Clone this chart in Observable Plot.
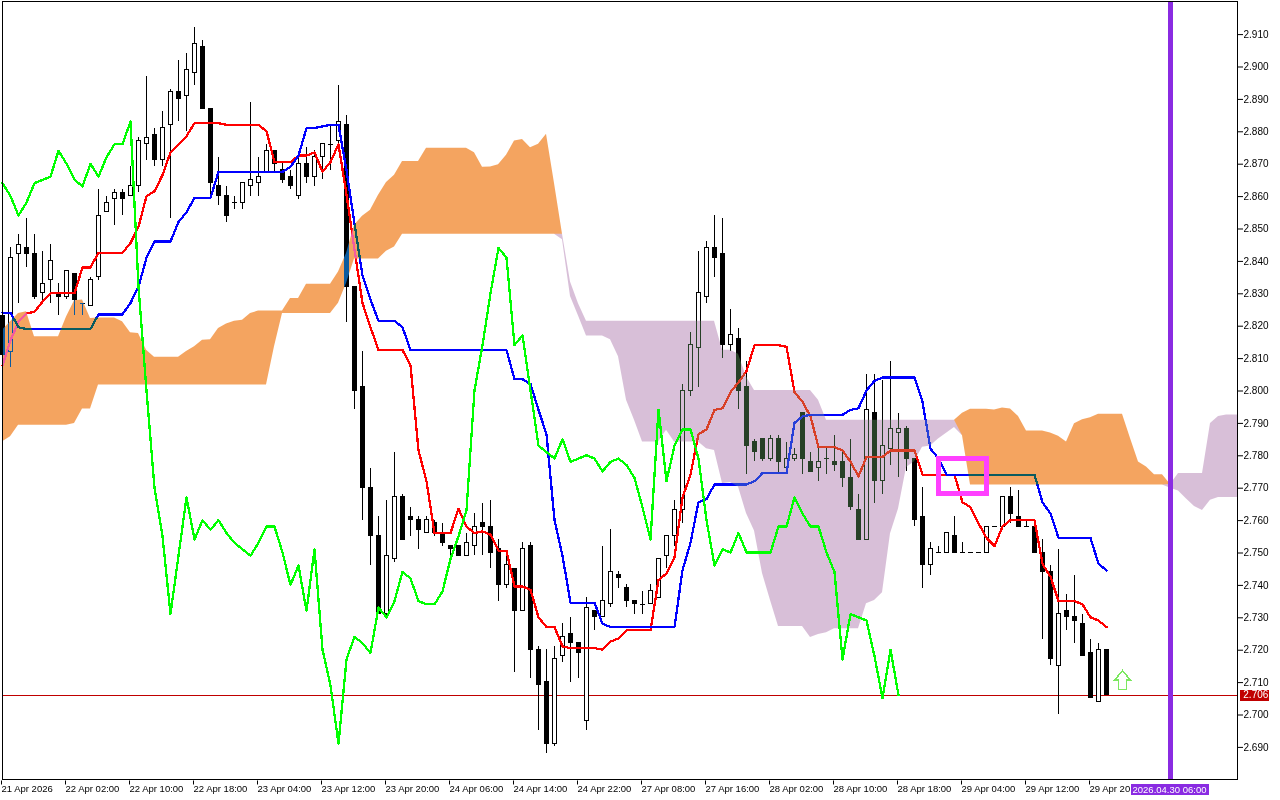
<!DOCTYPE html>
<html>
<head>
<meta charset="utf-8">
<style>
html,body{margin:0;padding:0;background:#fff;}
svg{display:block;}
</style>
<script src="https://cdn.jsdelivr.net/npm/d3@7"></script>
<script src="https://cdn.jsdelivr.net/npm/@observablehq/plot@0.6"></script>
</head>
<body>
<div id="chart"></div>
<script>
const open = [
2.823,2.812,2.842,2.844,2.842,2.830,2.834,2.830,2.829,2.836,
2.827,2.826,2.835,2.855,2.859,2.861,2.860,2.863,2.876,2.879,
2.871,2.882,2.892,2.891,2.898,2.906,2.887,2.863,2.860,2.858,
2.858,2.863,2.864,2.867,2.874,2.868,2.866,2.860,2.870,2.866,
2.872,2.876,2.877,2.882,2.832,2.801,2.770,2.755,2.731,2.748,
2.767,2.761,2.760,2.756,2.759,2.756,2.752,2.752,2.749,2.752,
2.759,2.758,2.751,2.740,2.745,2.732,2.752,2.720,2.710,2.691,
2.718,2.725,2.722,2.698,2.732,2.730,2.734,2.743,2.739,2.735,
2.734,2.734,2.736,2.749,2.755,2.763,2.800,2.813,2.829,2.844,
2.842,2.814,2.816,2.801,2.784,2.785,2.779,2.785,2.776,2.779,
2.793,2.778,2.776,2.779,2.778,2.778,2.773,2.763,2.754,2.793,
2.772,2.782,2.787,2.788,2.779,2.761,2.746,2.750,2.750,2.755,
2.750,2.750,2.750,2.750,2.758,2.758,2.767,2.761,2.758,2.758,
2.750,2.744,2.715,2.732,2.730,2.728,2.719,2.704,2.720];
const high = [
2.823,2.844,2.848,2.853,2.848,2.843,2.845,2.833,2.837,2.836,
2.827,2.835,2.862,2.860,2.862,2.862,2.869,2.878,2.897,2.881,
2.886,2.893,2.902,2.904,2.912,2.908,2.887,2.872,2.863,2.860,
2.864,2.889,2.872,2.876,2.874,2.870,2.868,2.872,2.875,2.874,
2.876,2.882,2.894,2.885,2.832,2.812,2.776,2.761,2.766,2.781,
2.768,2.764,2.761,2.761,2.760,2.759,2.752,2.752,2.756,2.762,
2.765,2.766,2.754,2.749,2.745,2.753,2.753,2.721,2.720,2.721,
2.728,2.730,2.722,2.736,2.732,2.752,2.757,2.744,2.740,2.735,
2.738,2.740,2.748,2.755,2.766,2.802,2.818,2.843,2.846,2.854,
2.853,2.825,2.819,2.809,2.785,2.785,2.786,2.786,2.784,2.782,
2.793,2.781,2.783,2.782,2.786,2.781,2.785,2.768,2.805,2.805,
2.803,2.809,2.793,2.789,2.779,2.770,2.753,2.752,2.756,2.761,
2.753,2.750,2.750,2.758,2.758,2.767,2.770,2.769,2.760,2.758,
2.754,2.746,2.751,2.737,2.743,2.731,2.723,2.722,2.720];
const low = [
2.811,2.807,2.827,2.838,2.828,2.827,2.827,2.823,2.828,2.823,
2.823,2.826,2.834,2.855,2.851,2.854,2.860,2.861,2.871,2.869,
2.869,2.853,2.883,2.880,2.894,2.887,2.860,2.857,2.852,2.856,
2.856,2.860,2.860,2.867,2.867,2.864,2.862,2.859,2.864,2.863,
2.865,2.868,2.876,2.821,2.794,2.760,2.746,2.731,2.730,2.747,
2.754,2.755,2.751,2.756,2.755,2.752,2.749,2.749,2.749,2.749,
2.749,2.745,2.735,2.739,2.713,2.732,2.711,2.695,2.688,2.690,
2.716,2.710,2.711,2.695,2.726,2.730,2.733,2.739,2.733,2.731,
2.731,2.734,2.736,2.745,2.752,2.759,2.798,2.801,2.827,2.835,
2.810,2.812,2.794,2.774,2.778,2.778,2.778,2.774,2.776,2.778,
2.774,2.775,2.772,2.774,2.775,2.770,2.763,2.754,2.754,2.765,
2.768,2.777,2.773,2.775,2.758,2.739,2.743,2.750,2.750,2.750,
2.750,2.750,2.750,2.750,2.758,2.758,2.759,2.758,2.758,2.750,
2.723,2.715,2.700,2.726,2.722,2.718,2.705,2.704,2.706];
const close = [
2.811,2.841,2.845,2.842,2.829,2.833,2.840,2.829,2.837,2.828,
2.827,2.834,2.854,2.858,2.861,2.859,2.863,2.877,2.878,2.871,
2.881,2.892,2.890,2.899,2.907,2.887,2.864,2.860,2.854,2.858,
2.864,2.865,2.866,2.874,2.870,2.865,2.863,2.870,2.866,2.872,
2.876,2.876,2.883,2.832,2.800,2.770,2.755,2.731,2.749,2.767,
2.754,2.760,2.757,2.760,2.756,2.753,2.751,2.749,2.753,2.758,
2.758,2.750,2.740,2.746,2.732,2.751,2.720,2.709,2.691,2.717,
2.724,2.722,2.719,2.733,2.730,2.735,2.744,2.742,2.735,2.734,
2.734,2.738,2.748,2.755,2.763,2.800,2.814,2.830,2.844,2.841,
2.814,2.817,2.800,2.783,2.781,2.779,2.785,2.778,2.779,2.780,
2.779,2.775,2.778,2.779,2.777,2.773,2.764,2.754,2.794,2.772,
2.783,2.788,2.788,2.779,2.760,2.746,2.751,2.750,2.756,2.750,
2.750,2.750,2.750,2.758,2.758,2.767,2.762,2.758,2.758,2.750,
2.744,2.717,2.731,2.730,2.729,2.718,2.705,2.720,2.706];
const tenkan = [
2.8078,2.8155,2.8212,2.8238,2.8243,2.8274,2.830,2.830,2.830,2.830,
2.838,2.838,2.8425,2.8425,2.8425,2.8425,2.8455,2.8505,2.860,2.8615,
2.8665,2.8735,2.876,2.8785,2.8825,2.8825,2.8825,2.8825,2.882,2.882,
2.882,2.882,2.882,2.880,2.8705,2.8705,2.8705,2.8725,2.8725,2.8735,
2.8675,2.8705,2.876,2.8605,2.8435,2.827,2.8195,2.8125,2.8125,2.8125,
2.8125,2.8078,2.7815,2.772,2.756,2.756,2.756,2.7635,2.758,2.756,
2.7565,2.7555,2.7505,2.7505,2.7395,2.7395,2.7385,2.730,2.727,2.727,
2.721,2.7205,2.7205,2.7205,2.7205,2.720,2.7225,2.7235,2.726,2.726,
2.726,2.726,2.7415,2.7435,2.7485,2.767,2.774,2.7865,2.788,2.794,
2.7945,2.7995,2.8025,2.806,2.814,2.814,2.814,2.814,2.8135,2.7995,
2.7965,2.792,2.7825,2.7825,2.7825,2.7815,2.778,2.7735,2.7795,2.7795,
2.7795,2.7815,2.7815,2.7815,2.7815,2.774,2.774,2.774,2.774,2.774,
2.7655,2.764,2.759,2.7545,2.752,2.758,2.760,2.760,2.760,2.760,
2.7465,2.7425,2.735,2.735,2.735,2.734,2.730,2.729,2.727];
const kijun = [
2.824,2.824,2.8195,2.819,2.819,2.819,2.819,2.819,2.819,2.819,
2.819,2.819,2.8235,2.8235,2.8235,2.8235,2.827,2.832,2.841,2.846,
2.846,2.846,2.852,2.855,2.8595,2.8595,2.8595,2.8675,2.8675,2.8675,
2.8675,2.8675,2.8675,2.8675,2.8675,2.8675,2.869,2.8725,2.881,2.881,
2.8815,2.882,2.882,2.868,2.8515,2.8355,2.828,2.8215,2.8215,2.8215,
2.8195,2.8125,2.8125,2.8125,2.8125,2.8125,2.8125,2.8125,2.8125,2.8125,
2.8125,2.8125,2.8125,2.8125,2.8035,2.8035,2.802,2.794,2.7865,2.760,
2.749,2.7345,2.7345,2.7345,2.7345,2.728,2.727,2.727,2.727,2.727,
2.727,2.727,2.727,2.727,2.727,2.7445,2.753,2.7655,2.7665,2.771,
2.771,2.771,2.771,2.771,2.772,2.7745,2.7745,2.7745,2.7745,2.790,
2.792,2.7925,2.7925,2.7925,2.7925,2.7925,2.794,2.7945,2.800,2.803,
2.804,2.804,2.804,2.804,2.804,2.7965,2.782,2.779,2.774,2.774,
2.774,2.774,2.774,2.774,2.774,2.774,2.774,2.774,2.774,2.774,
2.7655,2.762,2.7545,2.7545,2.7545,2.7545,2.7545,2.7465,2.7445];
const spanA = [
2.8186,2.8212,2.8238,2.8243,2.8166,2.8166,2.8166,2.8166,2.8227,2.8277,
2.8279,2.8222,2.8224,2.8224,2.8224,2.8212,2.8178,2.8176,2.8124,2.8103,
2.8103,2.8103,2.8103,2.812,2.8135,2.8155,2.8157,2.8191,2.8205,2.8214,
2.8217,2.8238,2.8245,2.8245,2.8245,2.8245,2.8284,2.8284,2.8328,2.8328,
2.8328,2.8328,2.8366,2.8423,2.851,2.8538,2.8556,2.8603,2.8642,2.8664,
2.8707,2.8707,2.8707,2.8748,2.8748,2.8748,2.8748,2.8748,2.8748,2.8734,
2.8689,2.869,2.8697,2.8726,2.877,2.8775,2.8749,2.876,2.8791,2.8639,
2.8465,2.829,2.823,2.8168,2.8168,2.8168,2.8157,2.8104,2.797,2.7908,
2.7841,2.7841,2.7841,2.7877,2.7841,2.7841,2.7841,2.7841,2.782,2.7815,
2.7713,2.7716,2.7702,2.762,2.7566,2.7435,2.7352,2.7272,2.7272,2.7272,
2.7272,2.7238,2.7247,2.7252,2.7265,2.7265,2.7265,2.7265,2.7342,2.7352,
2.7376,2.7558,2.7634,2.7762,2.778,2.7825,2.7829,2.785,2.7868,2.7886,
2.793,2.7942,2.7942,2.7942,2.794,2.7946,2.7943,2.792,2.7875,2.7875,
2.7875,2.7869,2.7859,2.7841,2.7897,2.791,2.7916,2.7927,2.7927,2.7927,
2.7927,2.7852,2.7779,2.7764,2.774,2.774,2.7698,2.769,2.7665,2.7642,
2.763,2.7661,2.767,2.767,2.767,2.767];
const spanB = [
2.7842,2.7857,2.7893,2.7893,2.7893,2.7893,2.7893,2.7893,2.7893,2.7898,
2.7943,2.7943,2.8017,2.8017,2.8017,2.8017,2.8017,2.8017,2.8017,2.8017,
2.8017,2.8017,2.8017,2.8017,2.8017,2.8017,2.8017,2.8017,2.8017,2.8017,
2.8017,2.8017,2.8017,2.8017,2.8135,2.8238,2.8238,2.8238,2.8238,2.8238,
2.8238,2.8238,2.8269,2.833,2.8406,2.8406,2.8406,2.8406,2.843,2.8443,
2.8482,2.8482,2.8482,2.8482,2.8482,2.8482,2.8482,2.8482,2.8482,2.8482,
2.8482,2.8482,2.8482,2.8482,2.8482,2.8482,2.8482,2.8482,2.8482,2.8482,
2.8482,2.8335,2.8268,2.8214,2.8214,2.8214,2.8214,2.8214,2.8214,2.8214,
2.8214,2.8214,2.8214,2.8214,2.8214,2.8214,2.8214,2.8214,2.8214,2.8214,
2.8124,2.8124,2.8112,2.8042,2.800,2.800,2.800,2.800,2.800,2.800,
2.800,2.800,2.797,2.7908,2.7908,2.7908,2.7908,2.7908,2.7908,2.7908,
2.7908,2.7908,2.7908,2.7908,2.7908,2.7908,2.7908,2.7908,2.7908,2.7908,
2.786,2.7708,2.7708,2.7708,2.7708,2.7708,2.7708,2.7708,2.7708,2.7708,
2.7708,2.7708,2.7708,2.7708,2.7708,2.7708,2.7708,2.7708,2.7708,2.7708,
2.7708,2.7708,2.7708,2.7708,2.7708,2.7708,2.771,2.7744,2.7744,2.7744,
2.7744,2.7898,2.792,2.7924,2.7924,2.7924];
const timeLabels = ["21 Apr 2026","22 Apr 02:00","22 Apr 10:00","22 Apr 18:00","23 Apr 04:00","23 Apr 12:00",
"23 Apr 20:00","24 Apr 06:00","24 Apr 14:00","24 Apr 22:00","27 Apr 08:00","27 Apr 16:00",
"28 Apr 02:00","28 Apr 10:00","28 Apr 18:00","29 Apr 04:00","29 Apr 12:00","29 Apr 20:00"];
const priceTicks = [2.69,2.70,2.71,2.72,2.73,2.74,2.75,2.76,2.77,2.78,2.79,2.80,2.81,2.82,2.83,2.84,2.85,2.86,2.87,2.88,2.89,2.90,2.91];
const lastPrice = 2.706;
const cursorBar = 146;
const cursorLabel = "2026.04.30 06:00";
const signalBar = 140;
const signalPrice = 2.7106;
const boxBars = [117,123];
const boxPrices = [2.768,2.779];
const lastBarOnScreen = 154.375;

const candles = close.map((c,i)=>({i,o:open[i],h:high[i],l:low[i],c}));
const chikou = close.slice(26).map((c,i)=>({i,c}));
const cloud = spanA.map((a,i)=>({i:Math.min(i,lastBarOnScreen),a,b:spanB[i]}));
const tLine = tenkan.map((v,i)=>({i,v}));
const kLine = kijun.map((v,i)=>({i,v}));
const body = 0.25, flat = 0.3125;
const arrowUp = {draw(ctx){
  ctx.moveTo(0,-9.5);ctx.lineTo(8,0);ctx.lineTo(4,0);ctx.lineTo(4,9.5);
  ctx.lineTo(-4,9.5);ctx.lineTo(-4,0);ctx.lineTo(-8,0);ctx.closePath();
}};
const aliased = {shapeRendering:"crispEdges"};

const chart = Plot.plot({
  width:1280, height:800,
  marginLeft:2, marginRight:43, marginTop:1, marginBottom:21,
  style:{fontFamily:"'Liberation Sans',Arial,sans-serif",fontSize:"9.5px",background:"#fff",color:"#000"},
  x:{domain:[0,lastBarOnScreen],range:[2,1237]},
  y:{domain:[2.67994,2.92006],range:[779,1]},
  marks:[
    Plot.frame({fill:"#fff",stroke:"none"}),
    Plot.ruleY([lastPrice],{x1:0,x2:lastBarOnScreen,stroke:"#c00000",strokeWidth:1,...aliased}),
    Plot.ruleX(candles,{x:"i",y1:"l",y2:"h",stroke:"#000",strokeWidth:1,...aliased}),
    Plot.rect(candles.filter(d=>d.c!==d.o),{x1:d=>d.i-body,x2:d=>d.i+body,y1:"o",y2:"c",
      fill:d=>d.c>d.o?"#fff":"#000",stroke:"#000",strokeWidth:1,...aliased}),
    Plot.ruleY(candles.filter(d=>d.c===d.o),{y:"o",x1:d=>d.i-flat,x2:d=>d.i+flat,stroke:"#000",...aliased}),
    Plot.line(tLine,{x:"i",y:"v",stroke:"#ff0000",strokeWidth:2.3,...aliased}),
    Plot.line(kLine,{x:"i",y:"v",stroke:"#0000ff",strokeWidth:2.3,...aliased}),
    Plot.areaY(cloud,{x:"i",y1:"b",y2:d=>d.a>d.b?d.a:d.b,fill:"#0b5b9f",mixBlendMode:"difference"}),
    Plot.areaY(cloud,{x:"i",y1:"b",y2:d=>d.a<d.b?d.a:d.b,fill:"#274027",mixBlendMode:"difference"}),
    Plot.line(chikou,{x:"i",y:"c",stroke:"#00ff00",strokeWidth:2.3,...aliased}),
    Plot.dot([{i:signalBar,p:signalPrice}],{x:"i",y:"p",symbol:arrowUp,stroke:"#7ce860",fill:"#fff",strokeWidth:1.5,...aliased}),
    Plot.rect([{x1:boxBars[0],x2:boxBars[1],y1:boxPrices[0],y2:boxPrices[1]}],{x1:"x1",x2:"x2",y1:"y1",y2:"y2",fill:"none",stroke:"#ff40ff",strokeWidth:5,...aliased}),
    Plot.ruleX([cursorBar],{stroke:"#8a2be2",strokeWidth:5,...aliased}),
    Plot.frame({stroke:"#000",...aliased}),
    Plot.axisX({ticks:timeLabels.map((_,k)=>k*8),tickFormat:i=>timeLabels[i/8],anchor:"bottom",tickSize:4,tickPadding:0,textAnchor:"start",label:null,stroke:"#000",dx:-1,dy:1.5}),
    Plot.axisY({ticks:priceTicks,tickFormat:d3.format(".3f"),anchor:"right",tickSize:5,tickPadding:1,label:null,stroke:"#000",dy:0.5,fontSize:10}),
    Plot.rect([0],{x1:141.125,x2:150.875,y1:2.6784,y2:2.675,fill:"#8a2be2",...aliased}),
    Plot.text([cursorLabel],{x:cursorBar,y:2.6767,text:d=>d,fill:"#fff",textAnchor:"middle",dx:-1}),
    Plot.rect([0],{x1:154.75,x2:158.4,y1:2.70741,y2:2.70401,fill:"#c00000",...aliased}),
    Plot.text([lastPrice],{x:155.1,y:lastPrice,text:d=>d3.format(".3f")(d),fill:"#fff",textAnchor:"start",fontSize:10})
  ]
});
document.getElementById("chart").appendChild(chart);
</script>
</body>
</html>
